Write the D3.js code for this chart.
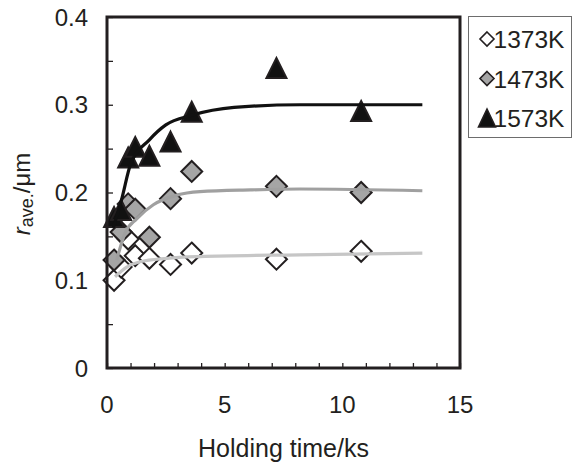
<!DOCTYPE html>
<html>
<head>
<meta charset="utf-8">
<script src="https://cdn.jsdelivr.net/npm/d3@7"></script>
<style>
	body { margin: 0; background: #fff; }
	text { font-family: "Liberation Sans", Arial, sans-serif; fill: #231f20; }
</style>
</head>
<body>
<div id="chart"></div>
<script>

// measured holding times (ks)
const times = [0.3, 0.6, 0.9, 1.2, 1.8, 2.7, 3.6, 7.2, 10.8];

// average radius (um) for each temperature
const r1373 = [0.100, 0.115, 0.147, 0.128, 0.125, 0.118, 0.131, 0.124, 0.133];
const r1473 = [0.123, 0.155, 0.187, 0.181, 0.149, 0.193, 0.224, 0.207, 0.200];
const r1573 = [0.172, 0.180, 0.240, 0.252, 0.242, 0.258, 0.292, 0.342, 0.293];

// fitted curves as [time, radius]
const fit1373 = [[0.34, 0.104], [0.84, 0.115], [1.4, 0.121], [2.54, 0.125], [3.95, 0.127], [8.2, 0.129], [13.4, 0.131]];
const fit1473 = [[0.41, 0.123], [0.77, 0.154], [1.26, 0.170], [1.97, 0.186], [2.96, 0.197], [3.95, 0.201], [6.1, 0.203], [8.2, 0.204], [13.4, 0.202]];
const fit1573 = [[0.27, 0.160], [0.62, 0.192], [1.0, 0.232], [1.8, 0.260], [2.5, 0.277], [3.6, 0.288], [5.4, 0.297], [8.2, 0.300], [13.4, 0.300]];

const legendLabels = ['1373K', '1473K', '1573K'];
const xTicks = [0, 5, 10, 15];
const yTicks = [0, 0.1, 0.2, 0.3, 0.4];

const width = 586;
const height = 466;
const margin = { left: 107, right: 126, top: 17, bottom: 98 };

const svg = d3.select('#chart')
	.append('svg')
		.attr('width', width)
		.attr('height', height);

const xScale = d3.scaleLinear()
	.domain([0, 15])
	.range([margin.left, width - margin.right]);

const yScale = d3.scaleLinear()
	.domain([0, 0.4])
	.range([height - margin.bottom, margin.top]);

// marker shapes
function diamond(s) {
	return `M0,${-s}L${s},0L0,${s}L${-s},0Z`;
}
function triangle(s) {
	return `M0,${-s}L${s},${s}L${-s},${s}Z`;
}

const series = [
	{ values: r1373, fit: fit1373, fill: '#ffffff', line: '#c6c6c6', shape: diamond, size: 10.5 },
	{ values: r1473, fit: fit1473, fill: '#a5a5a5', line: '#a0a0a0', shape: diamond, size: 10.5 },
	{ values: r1573, fit: fit1573, fill: '#111111', line: '#111111', shape: triangle, size: 10 }
];

// axes with inside ticks
const xAxis = d3.axisBottom(xScale)
	.tickValues(d3.range(0, 16, 1))
	.tickSize(-5)
	.tickFormat('');

svg.append('g')
	.attr('class', 'xAxis')
	.attr('transform', `translate(0, ${yScale(0)})`)
	.call(xAxis)
	.call(g => g.select('.domain').remove())
	.call(g => g.selectAll('line').attr('stroke', '#231f20').attr('stroke-width', 1.3));

const yAxis = d3.axisLeft(yScale)
	.tickValues(d3.range(0, 0.41, 0.05))
	.tickSize(-6)
	.tickFormat('');

svg.append('g')
	.attr('class', 'yAxis')
	.attr('transform', `translate(${xScale(0)}, 0)`)
	.call(yAxis)
	.call(g => g.select('.domain').remove())
	.call(g => g.selectAll('line').attr('stroke', '#231f20').attr('stroke-width', 1.3));

// tick labels
svg.append('g')
	.selectAll('text')
	.data(xTicks)
	.join('text')
		.attr('x', d => xScale(d))
		.attr('y', 413)
		.attr('text-anchor', 'middle')
		.attr('font-size', 24)
		.text(d => d);

svg.append('g')
	.selectAll('text')
	.data(yTicks)
	.join('text')
		.attr('x', 88)
		.attr('y', d => yScale(d) + 8.5)
		.attr('text-anchor', 'end')
		.attr('font-size', 24)
		.text(d => d === 0 ? '0' : d.toFixed(1));

// markers
series.forEach(s => {
	svg.append('g')
		.selectAll('path')
		.data(s.values)
		.join('path')
			.attr('transform', (d, i) => `translate(${xScale(times[i])}, ${yScale(d)})`)
			.attr('d', s.shape(s.size))
			.attr('fill', s.fill)
			.attr('stroke', '#231f20')
			.attr('stroke-width', 2);
});

// fitted curves
const line = d3.line()
	.x(d => xScale(d[0]))
	.y(d => yScale(d[1]))
	.curve(d3.curveMonotoneX);

series.forEach(s => {
	svg.append('path')
		.datum(s.fit)
		.attr('d', line)
		.attr('fill', 'none')
		.attr('stroke', s.line)
		.attr('stroke-width', 3.2);
});

// plot frame
svg.append('rect')
	.attr('x', xScale(0))
	.attr('y', yScale(0.4))
	.attr('width', xScale(15) - xScale(0))
	.attr('height', yScale(0) - yScale(0.4))
	.attr('fill', 'none')
	.attr('stroke', '#231f20')
	.attr('stroke-width', 3);

// axis titles
svg.append('text')
	.attr('x', (xScale(0) + xScale(15)) / 2)
	.attr('y', 457)
	.attr('text-anchor', 'middle')
	.attr('font-size', 25)
	.text('Holding time/ks');

const yTitle = svg.append('text')
	.attr('transform', 'translate(30, 194) rotate(-90)')
	.attr('text-anchor', 'middle')
	.attr('font-size', 24);
yTitle.append('tspan').attr('font-style', 'italic').text('r');
yTitle.append('tspan').attr('font-size', 18).attr('dy', 3).text('ave.');
yTitle.append('tspan').attr('dy', -3).text('/μm');

// legend
const legend = svg.append('g').attr('class', 'legend');

legend.append('rect')
	.attr('x', 468.5)
	.attr('y', 16.5)
	.attr('width', 103)
	.attr('height', 121)
	.attr('fill', '#fff')
	.attr('stroke', '#6d6d6d')
	.attr('stroke-width', 1);

const items = legend.selectAll('g.item')
	.data(series)
	.join('g')
		.attr('class', 'item')
		.attr('transform', (d, i) => `translate(487, ${39 + i * 39.5})`);

items.append('path')
	.attr('d', (d, i) => i === 2 ? 'M0,-9L8.5,9L-8.5,9Z' : diamond(7))
	.attr('fill', d => d.fill)
	.attr('stroke', '#231f20')
	.attr('stroke-width', 1.6);

items.append('text')
	.attr('x', 6.5)
	.attr('y', 9)
	.attr('font-size', 24.5)
	.text((d, i) => legendLabels[i]);

</script>
</body>
</html>
